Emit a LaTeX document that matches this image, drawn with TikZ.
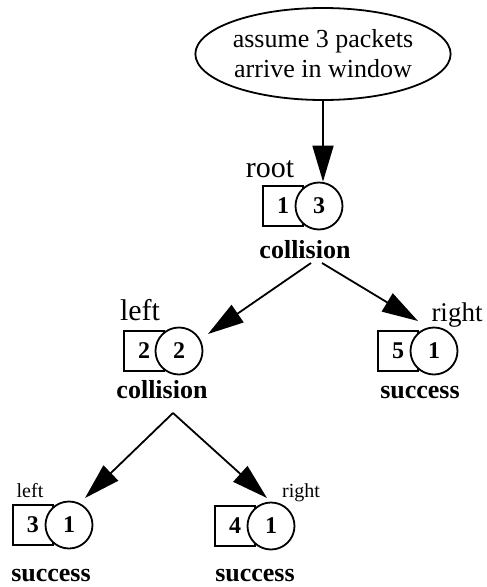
\documentclass[tikz,border=0pt]{standalone}
\usepackage{fontspec}
\setmainfont{Liberation Serif}
\usetikzlibrary{arrows.meta,shapes.geometric}
\tikzset{
  conn/.style={line width=1.8pt, -{Triangle[length=36pt,width=21pt]}},
  sqbox/.style={draw, line width=1.8pt, minimum size=40pt, inner sep=0pt, font=\fontsize{24}{24}\selectfont\bfseries},
  circbox/.style={draw, circle, fill=white, line width=1.8pt, minimum size=47pt, inner sep=0pt, font=\fontsize{24}{24}\selectfont\bfseries},
  status/.style={anchor=base, inner sep=0pt, font=\fontsize{26}{26}\selectfont\bfseries},
  biglbl/.style={anchor=base, inner sep=0pt, font=\fontsize{30}{30}\selectfont},
  midlbl/.style={anchor=base, inner sep=0pt, font=\fontsize{27}{27}\selectfont},
  smalllbl/.style={anchor=base, inner sep=0pt, font=\fontsize{20}{20}\selectfont},
}
\begin{document}
\begin{tikzpicture}[x=1pt,y=-1pt]
\useasboundingbox (0,0) rectangle (487,587);
\node[ellipse, draw, line width=1.8pt, minimum width=252pt, minimum height=92pt, inner sep=0pt, align=center, font=\fontsize{26}{30}\selectfont] (ell) at (323,54) {assume 3 packets\\arrive in window};
% root
\node[sqbox] (rootsq) at (283,206) {1};
\node[circbox] (rootc) at (319,206) {3};
\node[biglbl] (rootlbl) at (270,177) {root};
\node[status] (rootst) at (305,258) {collision};
\coordinate (rootforkL) at (311,263);
\coordinate (rootforkR) at (322,263);
% left
\node[sqbox] (leftsq) at (144,351) {2};
\node[circbox] (leftc) at (179,351) {2};
\node[biglbl] (leftlbl) at (140,320) {left};
\node[status] (leftst) at (162,398) {collision};
\coordinate (leftfork) at (173,413);
\coordinate (lefttip) at (208,334);
% right
\node[sqbox] (rightsq) at (398,351) {5};
\node[circbox] (rightc) at (434,351) {1};
\node[midlbl] (rightlbl) at (457,321) {right};
\node[status] (rightst) at (420,398) {success};
\coordinate (righttip) at (418,321);
% left-left
\node[sqbox] (llsq) at (33,525) {3};
\node[circbox] (llc) at (69,525) {1};
\node[smalllbl] (lllbl) at (30,497) {left};
\node[status] (llst) at (51,581) {success};
\coordinate (lltip) at (85,498);
% left-right
\node[sqbox] (lrsq) at (235,526) {4};
\node[circbox] (lrc) at (271,526) {1};
\node[smalllbl] (lrlbl) at (301,497) {right};
\node[status] (lrst) at (255,581) {success};
\coordinate (lrtip) at (267,498);
% connectors
\draw[conn] (ell.south) -- (ell.south |- rootc.north);
\draw[conn] (rootforkL) -- (lefttip);
\draw[conn] (rootforkR) -- (righttip);
\draw[conn] (leftfork) -- (lltip);
\draw[conn] (leftfork) -- (lrtip);
\end{tikzpicture}
\end{document}
